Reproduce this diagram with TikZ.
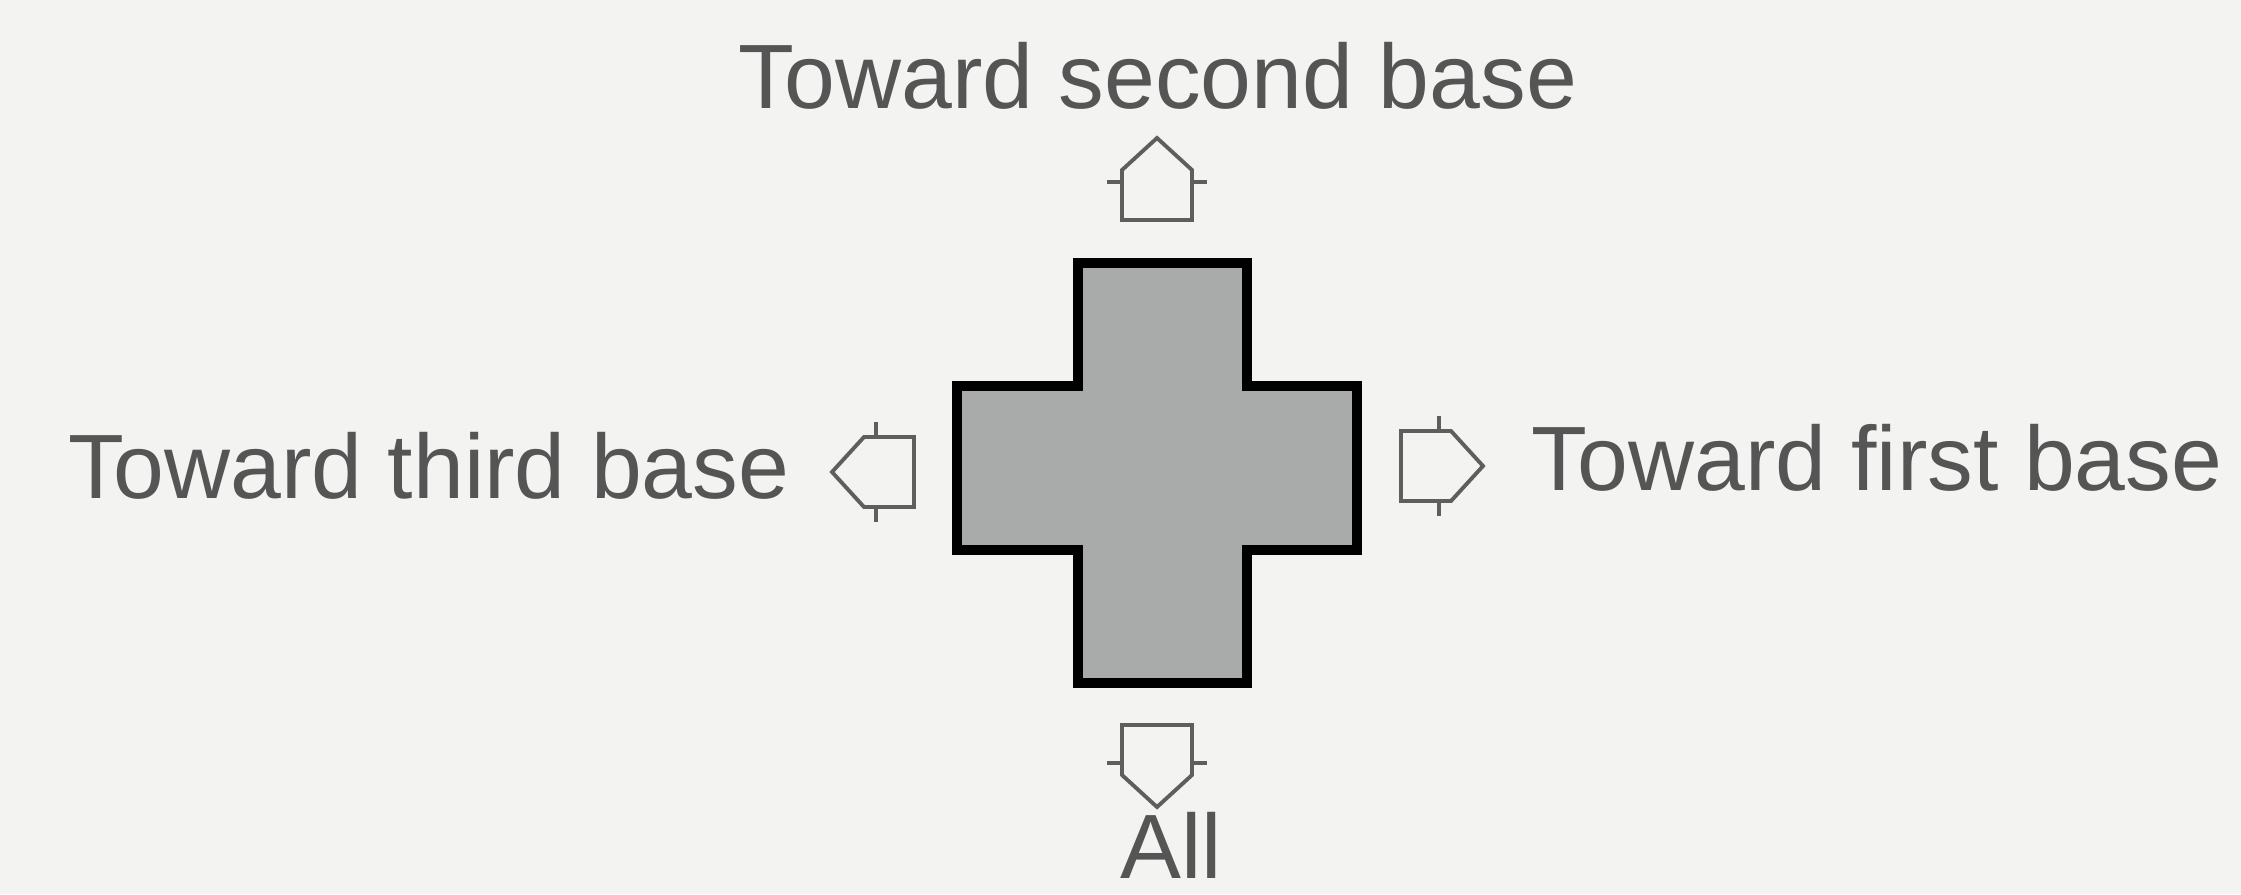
\documentclass[tikz,border=0pt]{standalone}
\usepackage{fontspec}
\setmainfont{Liberation Sans}
\usetikzlibrary{positioning}
\definecolor{bgpaper}{HTML}{F3F3F1}
\definecolor{padgray}{HTML}{A9ABAA}
\definecolor{inkgray}{HTML}{555555}
\definecolor{arrowgray}{HTML}{5E5E5E}

\begin{document}
\begin{tikzpicture}[x=0.1mm,y=-0.1mm,
  lbl/.style={font=\fontsize{26pt}{30pt}\selectfont,text=inkgray,inner sep=0pt},
  dirarrow/.pic={
    \draw[arrowgray,line width=1.1pt,line join=miter] (0,0) -- (-35,32) -- (-35,82) -- (35,82) -- (35,32) -- cycle;
    \draw[arrowgray,line width=1.1pt] (-35,44) -- (-50,44) (35,44) -- (50,44);
  }]
\fill[bgpaper] (0,0) rectangle (2241,894);
\useasboundingbox (0,0) rectangle (2241,894);
% control pad
\draw[fill=padgray,line width=1mm,line join=miter] (1078,263) -- (1247,263) -- (1247,386) -- (1357,386) -- (1357,550) -- (1247,550) -- (1247,683) -- (1078,683) -- (1078,550) -- (957,550) -- (957,386) -- (1078,386) -- cycle;
% direction arrows
\pic at (1157,138) {dirarrow};
\pic[rotate=90] at (832,472) {dirarrow};
\pic[rotate=-90] at (1483,466) {dirarrow};
\pic[rotate=180] at (1157,807) {dirarrow};
% labels
\node[lbl,anchor=base] (second) at (1158,108) {Toward second base};
\node[lbl,anchor=base east] (third) at (790,498) {Toward third base};
\node[lbl,anchor=base west] (first) at (1531,490) {Toward first base};
\node[lbl,anchor=base west] (all) at (1120,878) {All};
\end{tikzpicture}
\end{document}
